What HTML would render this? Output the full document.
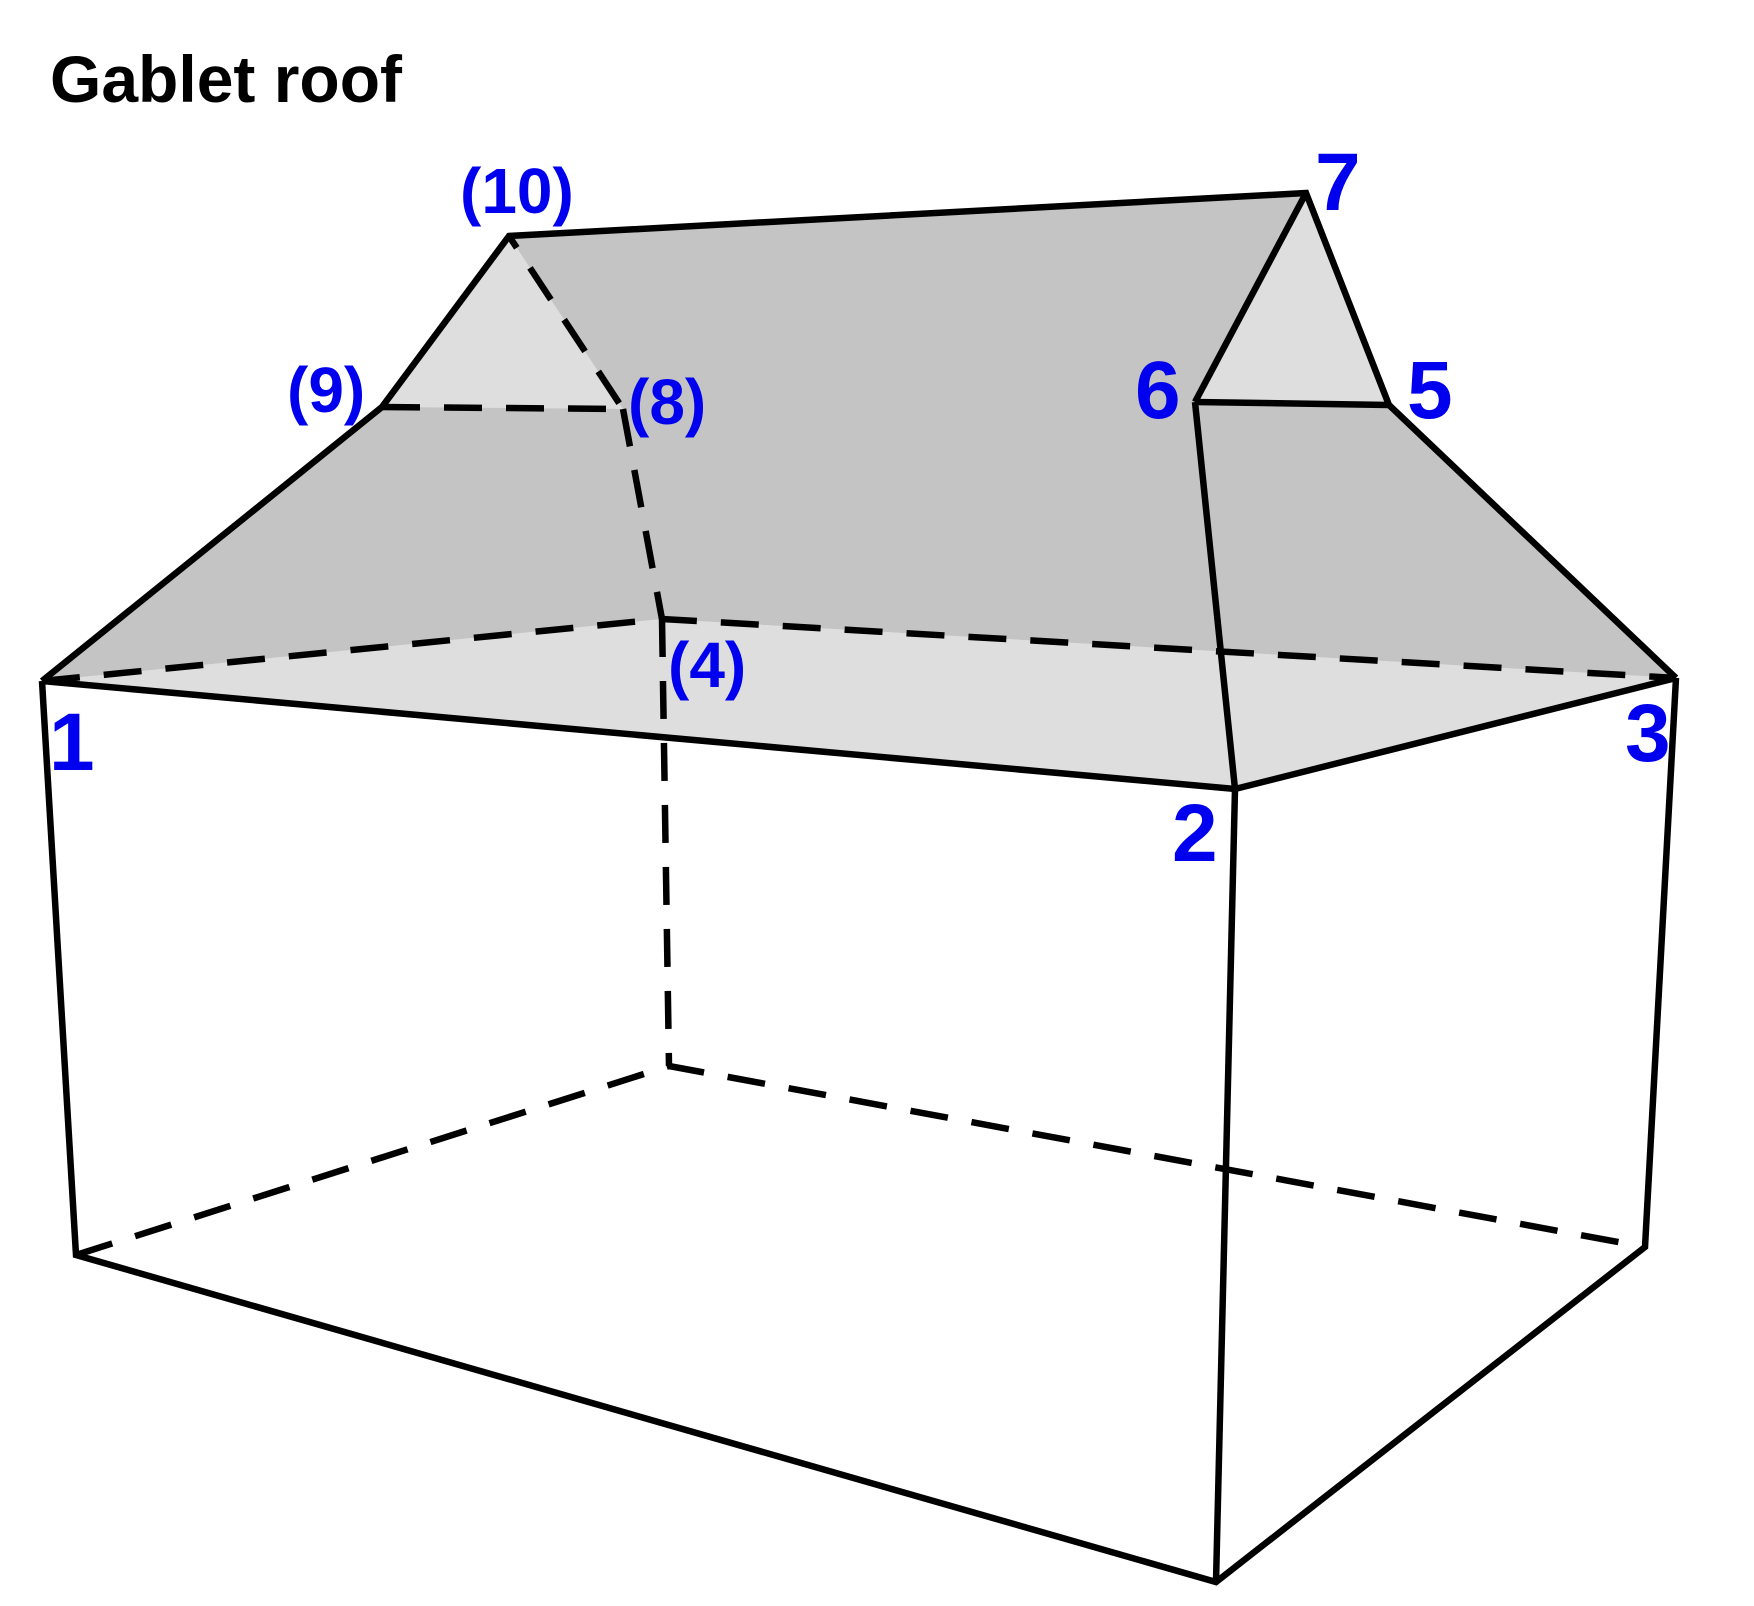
<!DOCTYPE html>
<html><head><meta charset="utf-8"><style>
html,body{margin:0;padding:0;background:#fff}
svg{display:block}
text{font-family:"Liberation Sans",Arial,sans-serif;font-weight:bold}
.n{fill:#0000ee;font-size:82px}
.p{fill:#0000ee;font-size:64px}
</style></head><body>
<svg width="1754" height="1606" viewBox="0 0 1754 1606" xmlns="http://www.w3.org/2000/svg">
<text x="50" y="102" font-size="66" fill="#000">Gablet roof</text>
<polygon points="42,681 662,619 1676,678 1235,789" fill="#dedede"/>
<polygon points="42,681 382,407 509,236 1306,193 1389,405 1676,678 662,619" fill="#c4c4c4"/>
<polygon points="382,407 509,236 623,409" fill="#dedede"/>
<polygon points="1195,402 1306,193 1389,405" fill="#dedede"/>
<g fill="none" stroke="#000" stroke-width="6.5" stroke-linejoin="miter">
<g stroke-dasharray="38,24">
<polyline points="42,681 662,619 1676,678"/>
<line x1="662" y1="619" x2="669" y2="1066"/>
<polyline points="382,407 623,409 509,236"/>
<line x1="623" y1="409" x2="662" y2="619"/>
<polyline points="76,1255 669,1066 1645,1247"/>
</g>
<polyline points="42,681 382,407 509,236 1306,193 1389,405 1676,678"/>
<polyline points="1195,402 1306,193"/>
<polyline points="1195,402 1389,405"/>
<polyline points="1195,402 1235,789"/>
<polyline points="42,681 1235,789 1676,678"/>
<polyline points="42,681 76,1255 1216,1582 1645,1247 1676,678"/>
<line x1="1235" y1="789" x2="1216" y2="1582"/>
</g>
<text class="n" x="49" y="770">1</text>
<text class="n" x="1172" y="861">2</text>
<text class="n" x="1625" y="761">3</text>
<text class="n" x="1407" y="418">5</text>
<text class="n" x="1135" y="418">6</text>
<text class="n" x="1315" y="210">7</text>
<text class="p" x="460" y="213">(10)</text>
<text class="p" x="287" y="412">(9)</text>
<text class="p" x="628" y="424">(8)</text>
<text class="p" x="668" y="687">(4)</text>
</svg>
</body></html>
